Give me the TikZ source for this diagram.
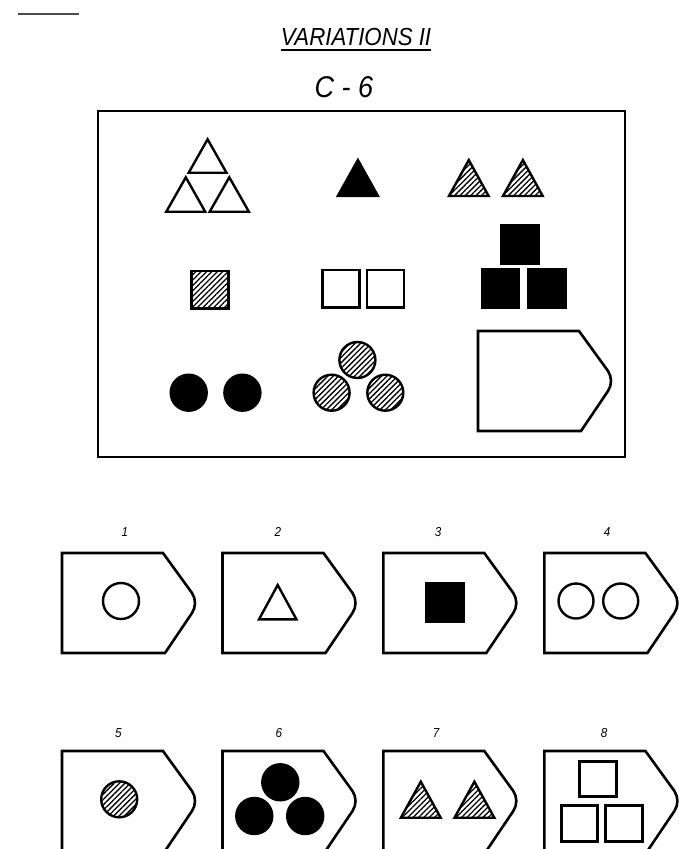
\documentclass[tikz,border=0pt]{standalone}
\usepackage{fontspec}
\newfontfamily\handfont{Liberation Sans}[FakeStretch=0.9]
\usetikzlibrary{patterns.meta}

\begin{document}
\begin{tikzpicture}[
  x=1pt, y=-1pt,
  outerbox/.style={draw=black, line width=2.8pt},
  answer/.style={draw=black, line width=2.6pt},
  open/.style={draw=black, line width=2.4pt, fill=white},
  blackfill/.style={draw=black, line width=2.4pt, fill=black},
  hatch/.style={draw=black, line width=2.4pt, pattern={Lines[angle=45, distance=3.8pt, line width=1.3pt]}},
  num/.style={font=\handfont\itshape\fontsize{13}{13}\selectfont, inner sep=0pt},
  tagshape/.pic={\draw[answer] (0,0) -- (101,0) -- (130,40) .. controls (134,46) and (134,54) .. (130,60) -- (103,100) -- (0,100) -- cycle;},
]
\useasboundingbox (0,0) rectangle (679,849);
\clip (0,0) rectangle (679,849);

% ---------------- heading ----------------
\draw[line width=2pt, black!70] (18,14) -- (79,14);
\node[font=\handfont\itshape\fontsize{24.7}{26}\selectfont, inner sep=0pt, anchor=base] (title) at (356,45) {VARIATIONS II};
\draw[line width=2pt] ([yshift=-4.5pt]title.base west) -- ([yshift=-4.5pt]title.base east);
\node[font=\handfont\itshape\fontsize{30}{32}\selectfont, inner sep=0pt, anchor=base] (code) at (344,97) {C - 6};

% ---------------- matrix ----------------
\draw[outerbox] (98,111) rectangle (625,457);

% row 1
\draw[open] (188.7,172.7) -- (226.5,172.7) -- (207.6,139.3) -- cycle;
\draw[open] (166.3,211.7) -- (205.2,211.7) -- (185.8,177.3) -- cycle;
\draw[open] (209.7,211.7) -- (248.9,211.7) -- (229.3,177.3) -- cycle;
\draw[blackfill] (337.8,196) -- (378,196) -- (357.9,160) -- cycle;
\draw[hatch] (449,196) -- (488.6,196) -- (468.8,160) -- cycle;
\draw[hatch] (503,196) -- (542.7,196) -- (522.9,160) -- cycle;
% row 2
\draw[hatch] (191.4,271) rectangle (228.6,308.3);
\draw[open] (322.3,270) rectangle (359.5,307.3);
\draw[open] (367,270) rectangle (404.2,307.3);
\draw[blackfill] (501.3,225) rectangle (538.5,263.3);
\draw[blackfill] (482.4,269.3) rectangle (519.2,307.3);
\draw[blackfill] (528.2,269.3) rectangle (565.4,307.3);
% row 3
\draw[blackfill] (188.7,392.7) circle (18);
\draw[blackfill] (242.4,392.7) circle (18);
\draw[hatch] (357.4,360) circle (18);
\draw[hatch] (331.6,392.7) circle (18);
\draw[hatch] (385.3,392.7) circle (18);
\pic at (478,331) {tagshape};

% ---------------- answers ----------------
\foreach \n/\px/\py/\lx/\ly in {1/62/553/125/532, 2/222.5/553/278/532, 3/383.3/553/438/532, 4/544.4/553/607/532,
                                 5/62/751/118.5/733, 6/222.5/751/279/733, 7/383.3/751/436/733, 8/544.4/751/604/733} {
  \pic at (\px,\py) {tagshape};
  \node[num] (lab\n) at (\lx,\ly) {\n};
}

% 1 - 4
\draw[open] (121,601) circle (18);
\draw[open] (259,619.3) -- (296.4,619.3) -- (277.7,585) -- cycle;
\draw[blackfill] (426.5,583.3) rectangle (464,621.7);
\draw[open] (576,601) circle (17.5);
\draw[open] (620.7,601) circle (17.5);
% 5 - 8
\draw[hatch] (119.2,799.3) circle (18);
\draw[blackfill] (280.3,782.3) circle (18);
\draw[blackfill] (254.3,816) circle (18);
\draw[blackfill] (305.2,816) circle (18);
\draw[hatch] (400.9,817.7) -- (440.7,817.7) -- (420.8,781.7) -- cycle;
\draw[hatch] (454.5,817.7) -- (494.3,817.7) -- (474.4,781.7) -- cycle;
\draw[open, line width=3pt] (579.3,761) rectangle (616.7,796);
\draw[open, line width=3pt] (561,805.3) rectangle (597.3,841);
\draw[open, line width=3pt] (605.7,805.3) rectangle (642.3,841);
\end{tikzpicture}
\end{document}
